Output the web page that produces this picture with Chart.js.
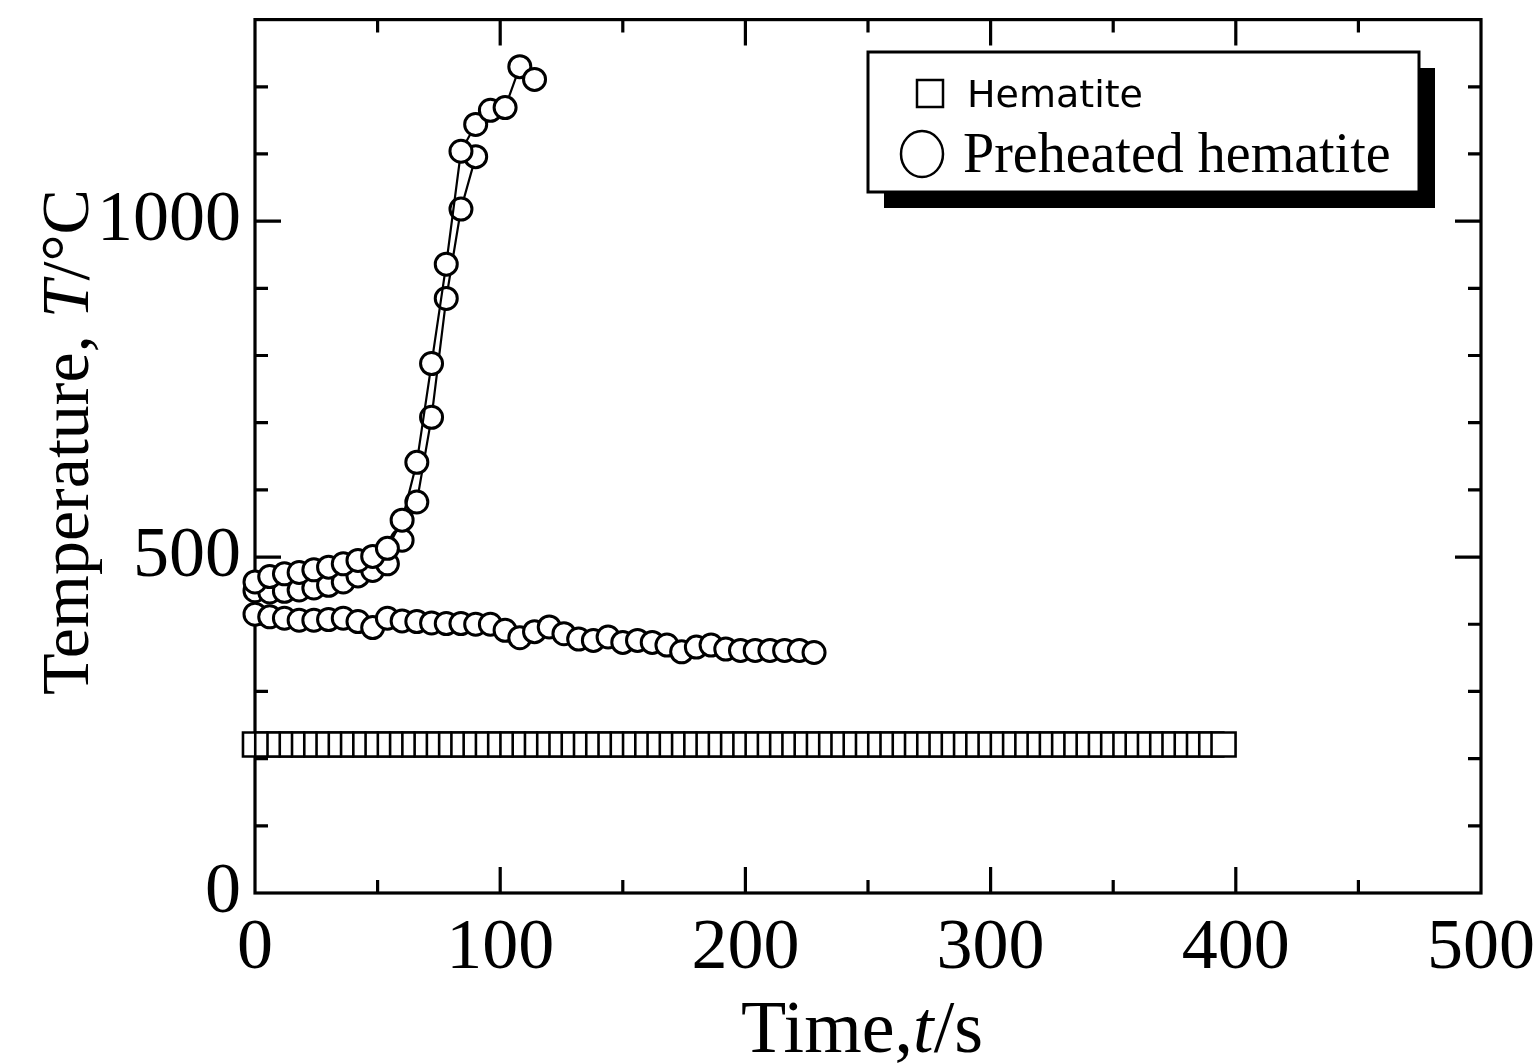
<!DOCTYPE html>
<html lang="en">
<head>
  <meta charset="UTF-8" />
  <title>Temperature vs time</title>
  <script src="https://cdn.jsdelivr.net/npm/chart.js@4.4.1/dist/chart.umd.min.js"></script>
  <style>
    body { margin: 0; background: #fff; }
    #wrap { width: 1534px; height: 1064px; }
  </style>
</head>
<body>
  <div id="wrap"><canvas id="myChart"></canvas></div>

  <script>
    // Hematite: flat line of squares
    const hemTime = [0, 5, 10, 15, 20, 25, 30, 35, 40, 45, 50, 55, 60, 65, 70, 75, 80, 85, 90, 95,
      100, 105, 110, 115, 120, 125, 130, 135, 140, 145, 150, 155, 160, 165, 170, 175, 180, 185, 190, 195,
      200, 205, 210, 215, 220, 225, 230, 235, 240, 245, 250, 255, 260, 265, 270, 275, 280, 285, 290, 295,
      300, 305, 310, 315, 320, 325, 330, 335, 340, 345, 350, 355, 360, 365, 370, 375, 380, 385, 390, 395];
    const hemTemp = [221, 221, 221, 221, 221, 221, 221, 221, 221, 221, 221, 221, 221, 221, 221, 221, 221, 221, 221, 221,
      221, 221, 221, 221, 221, 221, 221, 221, 221, 221, 221, 221, 221, 221, 221, 221, 221, 221, 221, 221,
      221, 221, 221, 221, 221, 221, 221, 221, 221, 221, 221, 221, 221, 221, 221, 221, 221, 221, 221, 221,
      221, 221, 221, 221, 221, 221, 221, 221, 221, 221, 221, 221, 221, 221, 221, 221, 221, 221, 221, 221];

    // Preheated hematite, two runs that ignite and one that cools
    const preATime = [0, 6, 12, 18, 24, 30, 36, 42, 48, 54, 60, 66, 72, 78, 84, 90, 96, 102, 108, 114];
    const preATemp = [463, 471, 475, 477, 481, 485, 490, 495, 501, 513, 555, 641, 788, 936, 1104, 1144, 1165, 1169, 1230, 1211];
    const preBTime = [0, 6, 12, 18, 24, 30, 36, 42, 48, 54, 60, 66, 72, 78, 84, 90];
    const preBTemp = [450, 448, 449, 451, 454, 458, 463, 472, 480, 490, 525, 582, 708, 885, 1018, 1096];
    const preCTime = [0, 6, 12, 18, 24, 30, 36, 42, 48, 54, 60, 66, 72, 78, 84, 90, 96, 102, 108, 114,
      120, 126, 132, 138, 144, 150, 156, 162, 168, 174, 180, 186, 192, 198, 204, 210, 216, 222, 228];
    const preCTemp = [415, 411, 409, 406, 406, 407, 409, 404, 395, 409, 405, 404, 402, 401, 401, 400, 400, 391, 380, 389,
      396, 386, 378, 376, 381, 373, 376, 373, 369, 359, 366, 369, 363, 361, 361, 361, 361, 361, 358];

    const xTicksMajor = [0, 100, 200, 300, 400, 500];
    const yTicksMajor = [0, 500, 1000];

    const pts = (xs, ys) => xs.map((t, i) => ({ x: t, y: ys[i] }));

    const circleSet = (data) => ({
      data: data,
      showLine: true,
      borderColor: '#000',
      borderWidth: 2.2,
      pointStyle: 'circle',
      pointRadius: 11,
      pointBorderWidth: 3,
      pointBackgroundColor: '#fff',
      pointBorderColor: '#000',
      clip: false
    });

    const serif = "'Liberation Serif', 'Times New Roman', serif";

    // frame with inward ticks on all four sides
    const framePlugin = {
      id: 'frame',
      beforeDatasetsDraw(chart) {
        const { ctx, chartArea: a, scales: { x, y } } = chart;
        ctx.save();
        ctx.strokeStyle = '#000';
        ctx.lineWidth = 3.2;
        ctx.strokeRect(a.left, a.top, a.right - a.left, a.bottom - a.top);
        ctx.beginPath();
        x.ticks.forEach(t => {
          if (t.value <= x.min || t.value >= x.max) return;
          const px = x.getPixelForValue(t.value);
          const len = xTicksMajor.includes(t.value) ? 26 : 13;
          ctx.moveTo(px, a.bottom); ctx.lineTo(px, a.bottom - len);
          ctx.moveTo(px, a.top); ctx.lineTo(px, a.top + len);
        });
        y.ticks.forEach(t => {
          if (t.value <= y.min || t.value >= y.max) return;
          const py = y.getPixelForValue(t.value);
          const len = yTicksMajor.includes(t.value) ? 26 : 13;
          ctx.moveTo(a.left, py); ctx.lineTo(a.left + len, py);
          ctx.moveTo(a.right, py); ctx.lineTo(a.right - len, py);
        });
        ctx.stroke();
        ctx.restore();
      }
    };

    // draws a run of text pieces, some italic
    function drawParts(ctx, parts, size) {
      let total = 0;
      parts.forEach(p => {
        ctx.font = (p.it ? 'italic ' : '') + size + 'px ' + serif;
        p.w = ctx.measureText(p.s).width;
        total += p.w;
      });
      let cx = -total / 2;
      parts.forEach(p => {
        ctx.font = (p.it ? 'italic ' : '') + size + 'px ' + serif;
        ctx.fillText(p.s, cx, 0);
        cx += p.w;
      });
    }

    const titlesPlugin = {
      id: 'titles',
      afterDraw(chart) {
        const { ctx, chartArea: a } = chart;
        ctx.save();
        ctx.fillStyle = '#000';
        ctx.textBaseline = 'alphabetic';
        ctx.textAlign = 'left';
        ctx.save();
        ctx.translate(88, 442);
        ctx.rotate(-Math.PI / 2);
        drawParts(ctx, [{ s: 'Temperature, ' }, { s: 'T', it: true }, { s: '/°C' }], 68);
        ctx.restore();
        ctx.save();
        ctx.translate((a.left + a.right) / 2 - 6, 1052);
        drawParts(ctx, [{ s: 'Time,' }, { s: 't', it: true }, { s: '/s' }], 74);
        ctx.restore();
        ctx.restore();
      }
    };

    const legendPlugin = {
      id: 'boxLegend',
      afterDraw(chart) {
        const ctx = chart.ctx;
        const L = 868, T = 52, W = 551, H = 140, off = 16;
        ctx.save();
        ctx.fillStyle = '#000';
        ctx.fillRect(L + off, T + off, W, H);
        ctx.fillStyle = '#fff';
        ctx.fillRect(L, T, W, H);
        ctx.strokeStyle = '#000';
        ctx.lineWidth = 3;
        ctx.strokeRect(L, T, W, H);
        ctx.lineWidth = 2.5;
        ctx.strokeRect(917, 80, 26, 27);
        ctx.beginPath();
        ctx.ellipse(922, 154, 21, 23, 0, 0, Math.PI * 2);
        ctx.stroke();
        ctx.fillStyle = '#000';
        ctx.textBaseline = 'alphabetic';
        ctx.font = "38px 'DejaVu Sans', sans-serif";
        ctx.fillText(chart.data.datasets[0].label, 967, 107);
        ctx.font = '56px ' + serif;
        ctx.fillText(chart.data.datasets[1].label, 963, 172);
        ctx.restore();
      }
    };

    new Chart(document.getElementById('myChart'), {
      type: 'scatter',
      data: {
        datasets: [
          {
            label: 'Hematite',
            data: pts(hemTime, hemTemp),
            showLine: false,
            pointStyle: 'rect',
            pointRadius: 17,
            pointBorderWidth: 2.6,
            pointBackgroundColor: '#fff',
            pointBorderColor: '#000',
            clip: false
          },
          Object.assign({ label: 'Preheated hematite' }, circleSet(pts(preATime, preATemp))),
          Object.assign({ label: 'Preheated hematite B' }, circleSet(pts(preBTime, preBTemp))),
          Object.assign({ label: 'Preheated hematite C' }, circleSet(pts(preCTime, preCTemp)))
        ]
      },
      options: {
        responsive: true,
        maintainAspectRatio: false,
        animation: false,
        layout: { padding: { left: 0, right: 53, top: 17, bottom: 0 } },
        plugins: { legend: { display: false }, tooltip: { enabled: false } },
        scales: {
          x: {
            type: 'linear', min: 0, max: 500,
            grid: { display: false }, border: { display: false },
            ticks: {
              stepSize: 50, autoSkip: false, maxRotation: 0, padding: 5, color: '#000',
              font: { family: serif, size: 72 },
              callback: v => xTicksMajor.includes(v) ? String(v) : ''
            },
            afterFit: s => { s.height = 171; s.paddingLeft = 0; s.paddingRight = 0; }
          },
          y: {
            type: 'linear', min: 0, max: 1300,
            grid: { display: false }, border: { display: false },
            ticks: {
              stepSize: 100, autoSkip: false, padding: 6, color: '#000',
              font: { family: serif, size: 72 },
              callback: v => yTicksMajor.includes(v) ? String(v) : ''
            },
            afterFit: s => { s.width = 255; s.paddingTop = 0; s.paddingBottom = 0; }
          }
        }
      },
      plugins: [framePlugin, titlesPlugin, legendPlugin]
    });
  </script>
</body>
</html>
